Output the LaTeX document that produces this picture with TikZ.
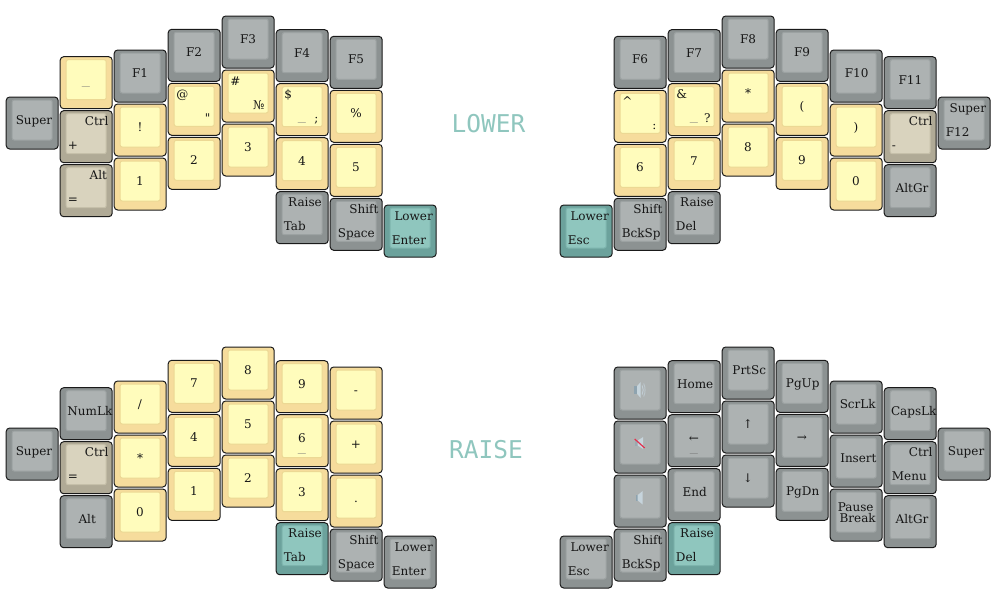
\documentclass[tikz,border=0pt]{standalone}
\usepackage{fontspec}
\newfontfamily\keyfont{DejaVu Serif}
\newfontfamily\titlefont{DejaVu Sans Mono}
\definecolor{gO}{HTML}{8C9292}\definecolor{gI}{HTML}{ADB2B2}\definecolor{gE}{HTML}{9CA2A2}
\definecolor{yO}{HTML}{F6DC9C}\definecolor{yI}{HTML}{FFFCBC}\definecolor{yE}{HTML}{ECD894}
\definecolor{tO}{HTML}{B0AA96}\definecolor{tI}{HTML}{D9D3BE}\definecolor{tE}{HTML}{C6C0AA}
\definecolor{mO}{HTML}{6CA29C}\definecolor{mI}{HTML}{8FC6BE}\definecolor{mE}{HTML}{7DB4AD}
\definecolor{ink}{HTML}{161616}\definecolor{spk}{HTML}{C6D4DC}\definecolor{spkd}{HTML}{8EA3AF}
\definecolor{edge}{HTML}{1A1A1A}\definecolor{mutered}{HTML}{E2324F}
\tikzset{
  capbody/.style={draw=edge,line width=1pt,rounded corners=3.5pt,minimum width=52pt,minimum height=52pt,inner sep=0pt,anchor=north west},
  captop/.style={line width=1pt,rounded corners=2pt,minimum width=40pt,minimum height=40pt,inner sep=0pt,anchor=north west},
  lab/.style={text=ink,inner sep=0pt,font=\keyfont\fontsize{12}{14}\selectfont},
  title/.style={text=mI,inner sep=0pt,anchor=base,font=\titlefont\fontsize{24.5}{28}\selectfont}
}
\newcommand{\K}[5]{% name x y colourletter content
  \begin{scope}[shift={(#2-0.3,#3)},name prefix=#1-]
    \node[capbody,fill=#4O] (body) at (0,0) {};
    \node[captop,fill=#4I,draw=#4E] (top) at (6,3) {};
    #5
  \end{scope}}
\newcommand{\Cc}[2][26.3]{\node[lab,anchor=base] (c) at (#1,28) {#2};}
\newcommand{\Cr}[2][49]{\node[lab,anchor=base east] (tr) at (#1,15.5) {#2};}
\newcommand{\Bl}[1]{\node[lab,anchor=base west] (bl) at (8,39.5) {#1};}
\newcommand{\Tl}[1]{\node[lab,anchor=base west] (tl) at (8.5,15.5) {#1};}
\newcommand{\Brr}[2][43]{\node[lab,anchor=base east] (br) at (#1,39.5) {#2};}
\newcommand{\Ub}{\scalebox{1.35}[1]{\_}}
\newcommand{\Us}[1][26.3]{\node[lab,anchor=base,text=ink!60] (us) at (#1,37.5) {\Ub};}
\begin{document}
\begin{tikzpicture}[x=1pt,y=-1pt]
\useasboundingbox (0,0) rectangle (1000,600);
% LOWER left
\K{a1}{6}{96.5}{g}{\Cc[28.3]{Super}}
\K{a2}{60}{56.2}{y}{\node[lab,anchor=base,text=ink!60] (c) at (26.3,28) {\Ub};}
\K{a3}{60}{110.2}{t}{\Cr{Ctrl}\Bl{+}}
\K{a4}{60}{164.2}{t}{\Cr[47.5]{Alt}\Bl{=}}
\K{a5}{114}{49.5}{g}{\Cc{F1}}
\K{a6}{114}{103.5}{y}{\Cc{!}}
\K{a7}{114}{157.5}{y}{\Cc{1}}
\K{a8}{168}{28.8}{g}{\Cc{F2}}
\K{a9}{168}{82.8}{y}{\Tl{@}\Brr{"}}
\K{a10}{168}{136.8}{y}{\Cc{2}}
\K{a11}{222}{15.5}{g}{\Cc{F3}}
\K{a12}{222}{69.5}{y}{\Tl{\#}\Brr{№}}
\K{a13}{222}{123.5}{y}{\Cc{3}}
\K{a14}{276}{29.2}{g}{\Cc{F4}}
\K{a15}{276}{83.2}{y}{\Tl{\$}\Brr{;}\Us}
\K{a16}{276}{137.2}{y}{\Cc{4}}
\K{a17}{276}{191.2}{g}{\Cr[46.3]{Raise}\Bl{Tab}}
\K{a18}{330}{35.8}{g}{\Cc{F5}}
\K{a19}{330}{89.8}{y}{\Cc{\%}}
\K{a20}{330}{143.8}{y}{\Cc{5}}
\K{a21}{330}{197.8}{g}{\Cr{Shift}\Bl{Space}\Us}
\K{a22}{384}{204.5}{m}{\Cr[49.3]{Lower}\Bl{Enter}}
% LOWER right
\K{b1}{560}{204.5}{m}{\Cr[49.3]{Lower}\Bl{Esc}}
\K{b2}{614}{35.8}{g}{\Cc{F6}}
\K{b3}{614}{89.8}{y}{\Tl{\textasciicircum}\Brr{:}}
\K{b4}{614}{143.8}{y}{\Cc{6}}
\K{b5}{614}{197.8}{g}{\Cr{Shift}\Bl{BckSp}\Us}
\K{b6}{668}{29.2}{g}{\Cc{F7}}
\K{b7}{668}{83.2}{y}{\Tl{\&}\Brr{?}\Us}
\K{b8}{668}{137.2}{y}{\Cc{7}}
\K{b9}{668}{191.2}{g}{\Cr[46.3]{Raise}\Bl{Del}}
\K{b10}{722}{15.5}{g}{\Cc{F8}}
\K{b11}{722}{69.5}{y}{\Cc{*}}
\K{b12}{722}{123.5}{y}{\Cc{8}}
\K{b13}{776}{28.8}{g}{\Cc{F9}}
\K{b14}{776}{82.8}{y}{\Cc{(}}
\K{b15}{776}{136.8}{y}{\Cc{9}}
\K{b16}{830}{49.5}{g}{\Cc[27]{F10}}
\K{b17}{830}{103.5}{y}{\Cc{)}}
\K{b18}{830}{157.5}{y}{\Cc{0}}
\K{b19}{884}{56.2}{g}{\Cc[26.7]{F11}}
\K{b20}{884}{110.2}{t}{\Cr{Ctrl}\Bl{-}}
\K{b21}{884}{164.2}{g}{\Cc[28.3]{AltGr}}
\K{b22}{938}{96.5}{g}{\Cr[48.5]{Super}\Bl{F12}}
% RAISE left
\K{c1}{6}{427.5}{g}{\Cc[28.3]{Super}}
\K{c2}{60}{387.2}{g}{\Cc[30.2]{NumLk}}
\K{c3}{60}{441.2}{t}{\Cr{Ctrl}\Bl{=}}
\K{c4}{60}{495.2}{g}{\Cc[27.5]{Alt}}
\K{c5}{114}{380.5}{y}{\Cc{/}}
\K{c6}{114}{434.5}{y}{\Cc{*}}
\K{c7}{114}{488.5}{y}{\Cc{0}}
\K{c8}{168}{359.8}{y}{\Cc{7}}
\K{c9}{168}{413.8}{y}{\Cc{4}}
\K{c10}{168}{467.8}{y}{\Cc{1}}
\K{c11}{222}{346.5}{y}{\Cc{8}}
\K{c12}{222}{400.5}{y}{\Cc{5}}
\K{c13}{222}{454.5}{y}{\Cc{2}}
\K{c14}{276}{360.2}{y}{\Cc{9}}
\K{c15}{276}{414.2}{y}{\Cc{6}\Us}
\K{c16}{276}{468.2}{y}{\Cc{3}}
\K{c17}{276}{522.2}{m}{\Cr[46.3]{Raise}\Bl{Tab}}
\K{c18}{330}{366.5}{y}{\Cc{-}}
\K{c19}{330}{420.5}{y}{\Cc{+}}
\K{c20}{330}{474.5}{y}{\Cc{.}}
\K{c21}{330}{528.5}{g}{\Cr{Shift}\Bl{Space}\Us}
\K{c22}{384}{535.5}{g}{\Cr[49.3]{Lower}\Bl{Enter}}
% RAISE right
\K{d1}{560}{535.5}{g}{\Cr[49.3]{Lower}\Bl{Esc}}
\K{d2}{614}{366.5}{g}{%
  \fill[spkd] (20,19.5) rectangle (23.5,27.5);
  \fill[spk] (23.5,19.5) -- (27,15.5) -- (27,31.5) -- (23.5,27.5) -- cycle;
  \draw[spk!80!gI,line width=1pt] (28.5,19) .. controls (29.8,22) and (29.8,25) .. (28.5,28);
  \draw[spk!60!gI,line width=1pt] (30,17) .. controls (31.8,21) and (31.8,26) .. (30,30);}
\K{d3}{614}{420.5}{g}{%
  \fill[spkd!60!gI] (21,20) rectangle (24,25);
  \fill[spk] (24,20) -- (29.5,16.5) -- (29.5,28.5) -- (24,25) -- cycle;
  \draw[mutered,line width=1.2pt] (21,18.5) -- (31,27.5);}
\K{d4}{614}{474.5}{g}{%
  \fill[spkd] (22,20.5) rectangle (24,26);
  \fill[spk] (24,20.5) -- (29,16.5) -- (29,30) -- (24,26) -- cycle;}
\K{d5}{614}{528.5}{g}{\Cr{Shift}\Bl{BckSp}\Us}
\K{d6}{668}{360.2}{g}{\Cc[27.5]{Home}}
\K{d7}{668}{414.2}{g}{\Cc{←}\Us}
\K{d8}{668}{468.2}{g}{\Cc[27]{End}}
\K{d9}{668}{522.2}{m}{\Cr[46.3]{Raise}\Bl{Del}}
\K{d10}{722}{346.5}{g}{\Cc[27.5]{PrtSc}}
\K{d11}{722}{400.5}{g}{\Cc{↑}}
\K{d12}{722}{454.5}{g}{\Cc{↓}}
\K{d13}{776}{359.8}{g}{\Cc[27]{PgUp}}
\K{d14}{776}{413.8}{g}{\Cc{→}}
\K{d15}{776}{467.8}{g}{\Cc[27]{PgDn}}
\K{d16}{830}{380.5}{g}{\Cc[28]{ScrLk}}
\K{d17}{830}{434.5}{g}{\Cc[28.7]{Insert}}
\K{d18}{830}{488.5}{g}{\node[lab,anchor=base] (p1) at (26,22.5) {Pause};\node[lab,anchor=base] (p2) at (28,33.5) {Break};}
\K{d19}{884}{387.2}{g}{\Cc[30]{CapsLk}}
\K{d20}{884}{441.2}{g}{\Cr{Ctrl}\Bl{Menu}}
\K{d21}{884}{495.2}{g}{\Cc[28.3]{AltGr}}
\K{d22}{938}{427.5}{g}{\Cc[28.3]{Super}}
\node[title] (lower) at (488.5,132) {LOWER};
\node[title] (raise) at (486,458) {RAISE};
\end{tikzpicture}
\end{document}
